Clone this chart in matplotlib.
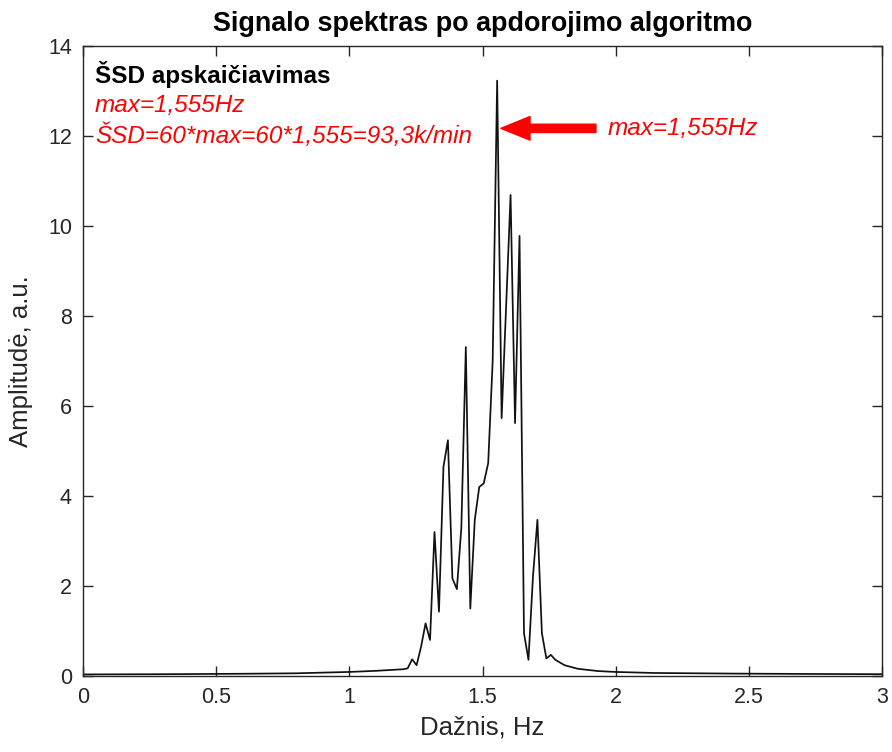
import matplotlib
matplotlib.use("Agg")
import matplotlib.pyplot as plt

plt.rcParams['font.family'] = ['Liberation Sans', 'DejaVu Sans']

# Frequency (Hz) and amplitude (a.u.) of the processed spectrum
left_tail_freq = [0.0, 0.3, 0.6, 0.8, 1.0, 1.1]
left_tail_amp = [0.035, 0.04, 0.05, 0.06, 0.09, 0.115]

band_freq = [1.2022, 1.2190, 1.2358, 1.2526, 1.2694, 1.2862, 1.3030, 1.3198,
             1.3366, 1.3534, 1.3702, 1.3870, 1.4038, 1.4206, 1.4374, 1.4542,
             1.4710, 1.4878, 1.5046, 1.5214, 1.5382, 1.5550, 1.5718, 1.5886,
             1.6054, 1.6222, 1.6390, 1.6558, 1.6726, 1.6894, 1.7062, 1.7230,
             1.7398, 1.7566, 1.7734]
band_amp = [0.15, 0.17, 0.37, 0.24, 0.65, 1.17, 0.80, 3.20,
            1.43, 4.65, 5.24, 2.17, 1.93, 3.30, 7.31, 1.50,
            3.47, 4.20, 4.28, 4.73, 7.00, 13.23, 5.73, 8.20,
            10.69, 5.62, 9.78, 0.95, 0.36, 2.20, 3.47, 0.95,
            0.39, 0.47, 0.36]

right_tail_freq = [1.808, 1.858, 1.933, 2.0, 2.145, 2.456, 2.75, 3.0]
right_tail_amp = [0.24, 0.16, 0.11, 0.09, 0.067, 0.053, 0.045, 0.04]

peak_freq = 1.555
x_ticks = [0, 0.5, 1, 1.5, 2, 2.5, 3]
x_tick_labels = ['0', '0.5', '1', '1.5', '2', '2.5', '3']
y_ticks = [0, 2, 4, 6, 8, 10, 12, 14]

freq = left_tail_freq + band_freq + right_tail_freq
amp = left_tail_amp + band_amp + right_tail_amp

fig = plt.figure(figsize=(8.92, 7.52), dpi=100)
ax = fig.add_axes([83 / 892, 1 - 676 / 752, 799 / 892, 630 / 752])

ax.plot(freq, amp, color='#111111', linewidth=1.25)

ax.set_xlim(0, 3)
ax.set_ylim(0, 14)
ax.set_xticks(x_ticks)
ax.set_xticklabels(x_tick_labels)
ax.set_yticks(y_ticks)

axis_color = '#262626'
for side in ['left', 'right', 'top', 'bottom']:
    ax.spines[side].set_color(axis_color)
    ax.spines[side].set_linewidth(1.0)
ax.tick_params(direction='in', length=7, width=1.0, colors=axis_color,
               labelsize=15.5, top=True, right=True, pad=8)

ax.set_title('Signalo spektras po apdorojimo algoritmo', fontsize=19.4,
             fontweight='bold', pad=11, color='black')
ax.set_xlabel('Dažnis, Hz', fontsize=18.5, color=axis_color, labelpad=5)
ax.set_ylabel('Amplitudė, a.u.', fontsize=18.5, color=axis_color, labelpad=11)

# Heart-rate calculation notes
ax.text(0.045, 13.36, 'ŠSD apskaičiavimas', fontsize=17.5, fontweight='bold',
        color='black', va='center', ha='left')
ax.text(0.045, 12.67, f'max={peak_freq:.3f}Hz'.replace('.', ','), fontsize=17.5,
        style='italic', color='red', va='center', ha='left')
ax.text(0.045, 12.00,
        f'ŠSD=60*max=60*{peak_freq:.3f}={60 * peak_freq:.1f}k/min'.replace('.', ','),
        fontsize=17.5, style='italic', color='red', va='center', ha='left')

# Arrow pointing at the dominant peak
ax.annotate('', xy=(1.569, 12.17), xytext=(1.926, 12.17),
            arrowprops=dict(facecolor='red', edgecolor='red', width=6,
                            headwidth=17, headlength=21, shrink=0))
ax.text(1.97, 12.17, f'max={peak_freq:.3f}Hz'.replace('.', ','), fontsize=17.5,
        style='italic', color='red', va='center', ha='left')

fig.savefig('out.png', dpi=100)
